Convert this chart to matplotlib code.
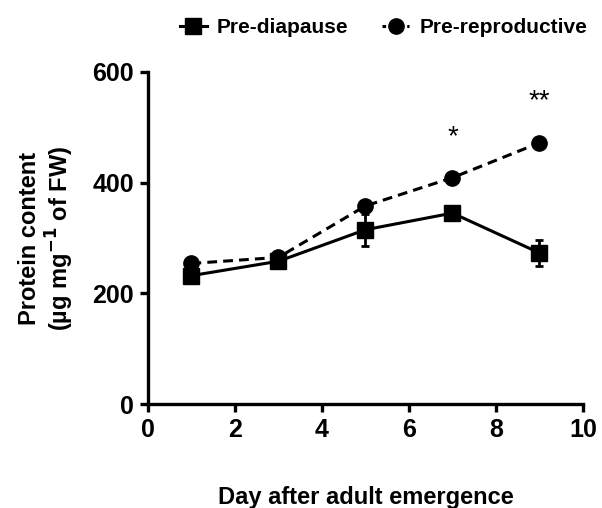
import matplotlib as mpl
mpl.use('Agg')
import matplotlib.pyplot as plt
from matplotlib.lines import Line2D

plt.rcParams['font.family'] = ['Liberation Sans', 'DejaVu Sans']
plt.rcParams['font.weight'] = 'bold'

days = [1, 3, 5, 7, 9]
pre_diapause = [232, 258, 315, 345, 273]
pre_diapause_err = [0, 0, 29, 0, 24]
pre_reproductive = [254, 265, 358, 409, 472]
pre_reproductive_err = [0, 0, 0, 0, 0]
stars = ['*', '**']
star_x = [7, 9]
star_y = [482, 548]

fig = plt.figure(figsize=(6.02, 5.08), dpi=100)
ax = fig.add_axes([0.2458, 0.2047, 0.7226, 0.6536])

dash = (0, (3.2, 2))
ax.errorbar(days, pre_diapause, yerr=pre_diapause_err, color='black',
            marker='s', markersize=12, linewidth=2.2, elinewidth=2,
            capsize=3, capthick=2, zorder=3)
ax.errorbar(days, pre_reproductive, yerr=pre_reproductive_err, color='black',
            marker='o', markersize=11, linewidth=2.2, linestyle=dash,
            elinewidth=2, capsize=3, capthick=2, zorder=4)

for s, x, y in zip(stars, star_x, star_y):
    ax.text(x, y, s, ha='center', va='center', fontsize=20, fontweight='normal')

ax.set_xlim(0, 10)
ax.set_ylim(0, 600)
ax.set_xticks([0, 2, 4, 6, 8, 10])
ax.set_yticks([0, 200, 400, 600])
for side in ['top', 'right']:
    ax.spines[side].set_visible(False)
for side in ['left', 'bottom']:
    ax.spines[side].set_linewidth(2.4)
ax.tick_params(direction='out', length=6, width=2.4, labelsize=18, pad=4)

ax.set_xlabel('Day after adult emergence', fontsize=17, fontweight='bold',
              labelpad=32)
ax.set_ylabel('Protein content\n(µg mg$^{\\mathbf{-1}}$ of FW)', fontsize=17,
              fontweight='bold', labelpad=12, linespacing=1.1)

handles = [
    Line2D([], [], color='black', marker='s', markersize=12, linewidth=2.2),
    Line2D([], [], color='black', marker='o', markersize=11, linewidth=2.2,
           linestyle=(0, (1.2, 1.5))),
]
fig.legend(handles, ['Pre-diapause', 'Pre-reproductive'], loc='center',
           bbox_to_anchor=(0.637, 0.945), ncol=2, frameon=False, fontsize=15,
           handlelength=1.3, handletextpad=0.5, columnspacing=1.6)

fig.savefig('out.png', dpi=100)
